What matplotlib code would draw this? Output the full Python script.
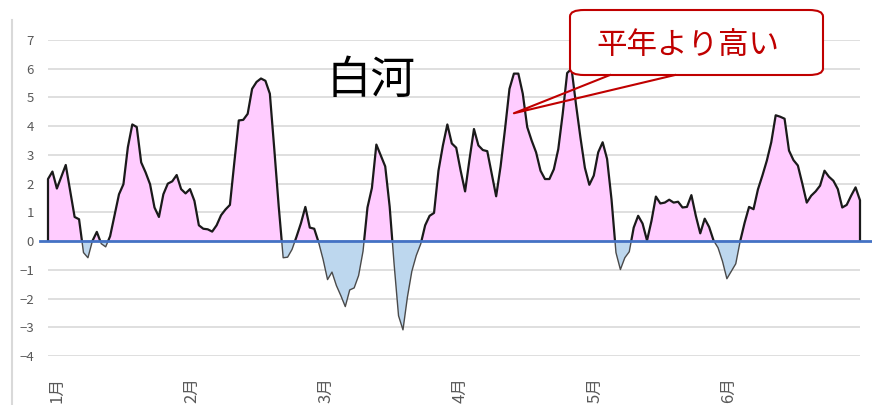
import numpy as np
import matplotlib
matplotlib.use("Agg")
import matplotlib.pyplot as plt
from matplotlib.patches import FancyBboxPatch, Rectangle
from matplotlib.lines import Line2D

plt.rcParams['font.family'] = ['Noto Sans CJK JP', 'DejaVu Sans']

# daily temperature anomaly (deg C), Jan 1 .. end of June
anomaly = [
    2.16, 2.42, 1.83, 2.24, 2.65, 1.75, 0.84, 0.76, -0.40, -0.58,
    0.00, 0.32, -0.09, -0.20, 0.17, 0.90, 1.63, 1.98, 3.27, 4.06,
    3.97, 2.74, 2.39, 1.98, 1.17, 0.84, 1.63, 2.00, 2.08, 2.30,
    1.81, 1.66, 1.81, 1.40, 0.55, 0.43, 0.41, 0.33, 0.55, 0.90,
    1.10, 1.26, 2.75, 4.20, 4.22, 4.43, 5.30, 5.54, 5.66, 5.58,
    5.13, 3.20, 1.20, -0.58, -0.56, -0.29, 0.15, 0.62, 1.19, 0.47,
    0.43, -0.05, -0.64, -1.34, -1.08, -1.55, -1.90, -2.28, -1.70, -1.63,
    -1.20, -0.35, 1.17, 1.85, 3.36, 2.98, 2.60, 1.20, -0.80, -2.60,
    -3.09, -1.95, -1.05, -0.50, -0.10, 0.55, 0.88, 0.98, 2.45, 3.33,
    4.06, 3.40, 3.25, 2.45, 1.73, 2.85, 3.90, 3.33, 3.17, 3.13,
    2.35, 1.56, 2.60, 3.90, 5.30, 5.83, 5.83, 5.13, 3.97, 3.50,
    3.09, 2.45, 2.16, 2.16, 2.50, 3.20, 4.43, 5.85, 6.00, 4.75,
    3.60, 2.55, 1.96, 2.28, 3.09, 3.44, 2.86, 1.45, -0.40, -0.99,
    -0.58, -0.37, 0.47, 0.88, 0.61, 0.02, 0.70, 1.55, 1.31, 1.34,
    1.44, 1.34, 1.37, 1.17, 1.19, 1.60, 0.88, 0.27, 0.78, 0.49,
    0.02, -0.23, -0.70, -1.31, -1.05, -0.79, 0.00, 0.64, 1.19, 1.11,
    1.80, 2.28, 2.80, 3.44, 4.38, 4.33, 4.26, 3.15, 2.82, 2.63,
    2.00, 1.34, 1.58, 1.73, 1.93, 2.45, 2.24, 2.10, 1.81, 1.17,
    1.26, 1.58, 1.87, 1.42,
]
month_labels = ['1月', '2月', '3月', '4月', '5月', '6月']
month_pos = [2, 32.3, 62.6, 92.9, 123.2, 153.3]
station = '白河'
note = '平年より高い'
note_day, note_val = 105, 4.45

W, H = 872, 405
fig = plt.figure(figsize=(W / 100, H / 100), dpi=100)


def fx(px):
    return px / W


def fy(py):
    return (H - py) / H


ax = fig.add_axes([fx(48), fy(356), fx(860) - fx(48), fy(40) - fy(356)])

days = np.arange(len(anomaly))
vals = np.array(anomaly)

ax.fill_between(days, vals, 0, where=vals >= 0, interpolate=True,
                color='#ffccff', linewidth=0, zorder=2)
ax.fill_between(days, vals, 0, where=vals <= 0, interpolate=True,
                color='#bdd7ee', linewidth=0, zorder=2)

# outline, dark above zero and grey below
lx = np.concatenate([[0], days, [days[-1]]])
ly = np.concatenate([[0], vals, [0]])
up, = ax.plot(lx, ly, color='#1a1a1a', lw=1.6, zorder=3)
up.set_clip_path(Rectangle((-5, 0), 200, 20, transform=ax.transData))
dn, = ax.plot(lx, ly, color='#4a4a4a', lw=1.0, zorder=3)
dn.set_clip_path(Rectangle((-5, -20), 200, 20, transform=ax.transData))

ax.axhline(0, xmin=-8 / 812, xmax=1 + 14 / 812, color='#4472c4', lw=2.0,
           clip_on=False, zorder=4)

ax.set_xlim(0, len(anomaly) - 1)
ax.set_ylim(-4, 7)
ax.set_yticks(range(-4, 8))
ax.grid(axis='y', color='#d9d9d9', lw=1.2, zorder=0)
ax.set_axisbelow(True)
for s in ax.spines.values():
    s.set_visible(False)
ax.tick_params(axis='y', length=0, pad=10, labelsize=9.5, labelcolor='#595959')
ax.set_xticks(month_pos, month_labels, rotation=90)
ax.tick_params(axis='x', length=0, pad=15, labelsize=12, labelcolor='#595959')

# left border of the chart area
fig.add_artist(Line2D([fx(12), fx(12)], [0, fy(20)], color='#d9d9d9', lw=1.5))

fig.text(fx(371), fy(80), station, fontsize=32, ha='center', va='center',
         color='black')

# callout
red = '#c00000'
box = FancyBboxPatch((fx(570), fy(75)), fx(823) - fx(570), fy(10) - fy(75),
                     boxstyle='round,pad=0,rounding_size=0.016',
                     transform=fig.transFigure, facecolor='white',
                     edgecolor=red, lw=1.5, zorder=10)
fig.add_artist(box)
tip = fig.transFigure.inverted().transform(ax.transData.transform((note_day, note_val)))
fig.add_artist(Line2D([fx(610), tip[0], fx(675)], [fy(75), tip[1], fy(75)],
                      color=red, lw=1.5, zorder=11))
fig.text(fx(688), fy(46), note, fontsize=22, ha='center', va='center',
         color=red, zorder=12)

fig.savefig('out.png', dpi=100)
